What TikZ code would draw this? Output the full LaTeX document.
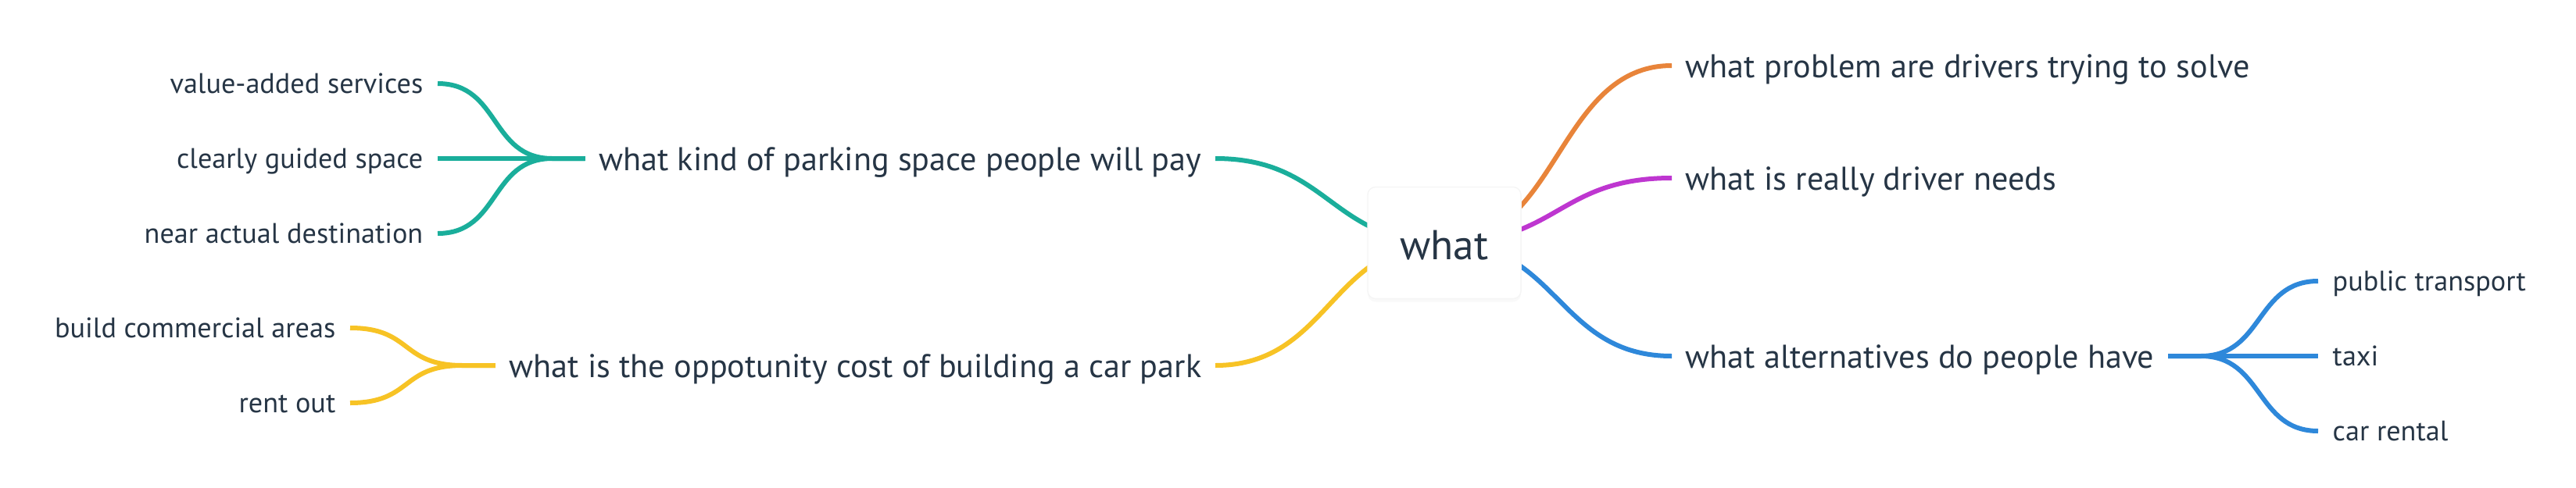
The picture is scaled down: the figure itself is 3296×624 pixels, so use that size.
\documentclass[tikz,border=0pt]{standalone}
\usepackage{fontspec}
\setmainfont{PT Sans}
\usetikzlibrary{backgrounds,shadows}

\definecolor{ink}{HTML}{263545}
\definecolor{tealbr}{HTML}{1AAE9B}
\definecolor{yellowbr}{HTML}{F7C325}
\definecolor{orangebr}{HTML}{E8843A}
\definecolor{magentabr}{HTML}{BE36D0}
\definecolor{bluebr}{HTML}{2E88DA}

\begin{document}
\begin{tikzpicture}[x=0.01cm, y=-0.01cm, line cap=round,
  every node/.style={text=ink},
  root/.style={fill=white, draw=black!4, rounded corners=0.1cm,
    minimum width=1.96cm, minimum height=1.43cm, text height=12.4pt, text depth=0pt,
    drop shadow={opacity=0.05, shadow xshift=0cm, shadow yshift=-0.04cm},
    font=\fontsize{15.2}{18}\selectfont},
  topic/.style={inner xsep=0.17cm, inner ysep=0.05cm, text height=10.8pt, text depth=2.2pt,
    font=\fontsize{12}{14}\selectfont},
  leaf/.style={inner xsep=0.18cm, inner ysep=0.05cm, text height=9.2pt, text depth=2.1pt,
    font=\fontsize{10.3}{12}\selectfont},
  branch/.style={line width=0.06cm}]
\useasboundingbox (0,0) rectangle (3296,624);

% central topic
\node[root] (root) at (1848,311) {what};

% main topics
\node[topic, anchor=east] (kind) at (1555,203) {what kind of parking space people will pay};
\node[topic, anchor=east] (cost) at (1555,468) {what is the oppotunity cost of building a car park};
\node[topic, anchor=west] (problem) at (2139,84) {what problem are drivers trying to solve};
\node[topic, anchor=west] (needs) at (2139,228) {what is really driver needs};
\node[topic, anchor=west] (alter) at (2139,456) {what alternatives do people have};

% subtopics
\node[leaf, anchor=east] (value) at (560,107) {value-added services};
\node[leaf, anchor=east] (guided) at (560,203) {clearly guided space};
\node[leaf, anchor=east] (near) at (560,299) {near actual destination};
\node[leaf, anchor=east] (commercial) at (448,420) {build commercial areas};
\node[leaf, anchor=east] (rent) at (448,516) {rent out};
\node[leaf, anchor=west] (public) at (2966,360) {public transport};
\node[leaf, anchor=west] (taxi) at (2966,456) {taxi};
\node[leaf, anchor=west] (rental) at (2966,552) {car rental};

\begin{scope}[on background layer]
% root to main topics
\draw[branch, tealbr] (root.center) .. controls +(-146,0) and +(146,0) .. (kind.east);
\draw[branch, yellowbr] (root.center) .. controls +(-146,0) and +(146,0) .. (cost.east);
\draw[branch, orangebr] (root.center) .. controls +(146,0) and +(-146,0) .. (problem.west);
\draw[branch, magentabr] (root.center) .. controls +(146,0) and +(-146,0) .. (needs.west);
\draw[branch, bluebr] (root.center) .. controls +(146,0) and +(-146,0) .. (alter.west);

% main topics to subtopics
\draw[branch, tealbr] (kind.west) -- ++(-42,0) .. controls +(-80,0) and +(80,0) .. (value.east);
\draw[branch, tealbr] (kind.west) -- (guided.east);
\draw[branch, tealbr] (kind.west) -- ++(-42,0) .. controls +(-80,0) and +(80,0) .. (near.east);
\draw[branch, yellowbr] (cost.west) -- ++(-42,0) .. controls +(-80,0) and +(80,0) .. (commercial.east);
\draw[branch, yellowbr] (cost.west) -- ++(-42,0) .. controls +(-80,0) and +(80,0) .. (rent.east);
\draw[branch, bluebr] (alter.east) -- ++(42,0) .. controls +(80,0) and +(-80,0) .. (public.west);
\draw[branch, bluebr] (alter.east) -- (taxi.west);
\draw[branch, bluebr] (alter.east) -- ++(42,0) .. controls +(80,0) and +(-80,0) .. (rental.west);
\end{scope}
\end{tikzpicture}
\end{document}
